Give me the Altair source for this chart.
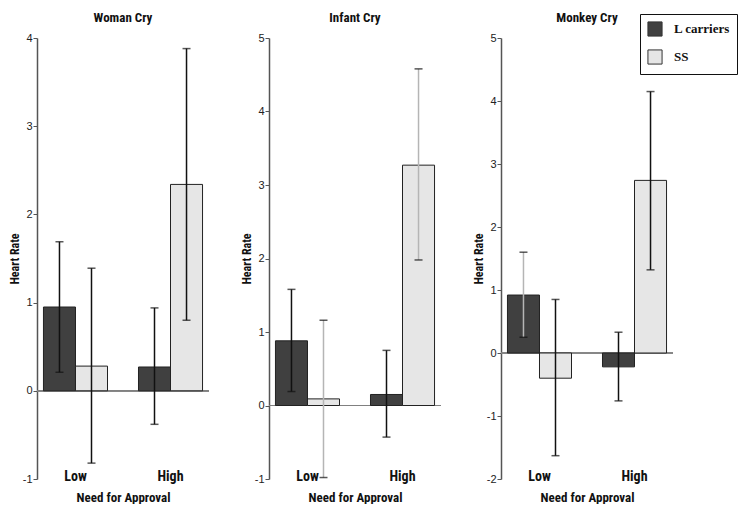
import altair as alt
import pandas as pd

panels = ["Woman Cry", "Infant Cry", "Monkey Cry"]
need_levels = ["Low", "High"]
groups = ["L carriers", "SS"]

# order of each list: L-Low, SS-Low, L-High, SS-High
woman_mean = [0.95, 0.28, 0.27, 2.34]
woman_lo = [0.21, -0.82, -0.38, 0.80]
woman_hi = [1.69, 1.39, 0.94, 3.88]

infant_mean = [0.88, 0.09, 0.15, 3.27]
infant_lo = [0.19, -0.98, -0.43, 1.98]
infant_hi = [1.58, 1.16, 0.75, 4.58]

monkey_mean = [0.92, -0.40, -0.22, 2.74]
monkey_lo = [0.25, -1.63, -0.76, 1.32]
monkey_hi = [1.60, 0.85, 0.33, 4.15]

y_domains = {"Woman Cry": [-1, 4], "Infant Cry": [-1, 5], "Monkey Cry": [-2, 5]}

# error bars drawn in light grey in the original
light_err = {("Infant Cry", "SS", "Low"), ("Infant Cry", "SS", "High"),
             ("Monkey Cry", "L carriers", "Low")}

series = {
    "Woman Cry": (woman_mean, woman_lo, woman_hi),
    "Infant Cry": (infant_mean, infant_lo, infant_hi),
    "Monkey Cry": (monkey_mean, monkey_lo, monkey_hi),
}
cells = [("Low", "L carriers"), ("Low", "SS"), ("High", "L carriers"), ("High", "SS")]

rows = []
for p in panels:
    m, lo, hi = series[p]
    for i, (nd, g) in enumerate(cells):
        rows.append({"panel": p, "need": nd, "group": g, "mean": m[i], "lo": lo[i], "hi": hi[i],
                     "ecol": "#b5b5b5" if (p, g, nd) in light_err else "#111111"})
df = pd.DataFrame(rows)

SANS = "Liberation Sans Narrow, Arial Narrow, Roboto Condensed, Liberation Sans, sans-serif"
SERIF = "Liberation Serif, DejaVu Serif, serif"

LEGEND = alt.Legend(title=None, orient="none", legendX=603, legendY=-24,
                    strokeColor="#111", padding=7, fillColor="white",
                    symbolType="square", symbolSize=200, symbolStrokeColor="#333",
                    symbolStrokeWidth=1, symbolOpacity=1, labelFont=SERIF,
                    labelFontWeight="bold", labelFontSize=13, labelColor="#111",
                    labelOffset=11, rowPadding=8)


def panel(name):
    d = df[df.panel == name]
    dom = y_domains[name]
    base = alt.Chart(d)
    x = alt.X("need:N", sort=need_levels,
              scale=alt.Scale(paddingInner=0.326, paddingOuter=0.068),
              axis=alt.Axis(title="Need for Approval", labelAngle=0, domain=False, ticks=False,
                            labelPadding=-10, labelFont=SANS, labelFontWeight="bold",
                            labelFontSize=14, labelColor="#111", titleFont=SANS,
                            titleFontWeight="bold", titleFontSize=13, titleColor="#111",
                            titlePadding=8))
    xo = alt.XOffset("group:N", sort=groups, scale=alt.Scale(paddingInner=0, paddingOuter=0))
    y_axis = alt.Axis(title="Heart Rate", values=list(range(dom[0], dom[1] + 1)),
                      labelExpr="'' + datum.value",
                      grid=False, domainColor="#555", domainWidth=1.5, tickColor="#555",
                      tickSize=4, labelPadding=1, labelFontSize=11, labelColor="#222",
                      labelFont="Liberation Sans, Arial, sans-serif",
                      titleFont=SANS, titleFontWeight="bold", titleFontSize=12,
                      titleColor="#111", titlePadding=1)
    y = alt.Y("mean:Q", scale=alt.Scale(domain=dom, nice=False), axis=y_axis)

    zero = base.mark_rule(color="#808080", strokeWidth=1.2).encode(y=alt.datum(0))
    bars = base.mark_bar(stroke="#222", strokeWidth=1).encode(
        x=x, xOffset=xo, y=y,
        fill=alt.Fill("group:N", sort=groups,
                      scale=alt.Scale(domain=groups, range=["#404040", "#e6e6e6"]),
                      legend=LEGEND))
    err = base.mark_rule(strokeWidth=1.5).encode(
        x=x, xOffset=xo, y="lo:Q", y2="hi:Q", color=alt.Color("ecol:N", scale=None))
    cap_lo = base.mark_tick(size=8, thickness=1.5, color="#111").encode(x=x, xOffset=xo, y="lo:Q")
    cap_hi = base.mark_tick(size=8, thickness=1.5, color="#111").encode(x=x, xOffset=xo, y="hi:Q")

    return alt.layer(zero, bars, err, cap_lo, cap_hi).properties(
        width=172, height=441,
        title=alt.Title(name, font=SANS, fontWeight="bold", fontSize=13, color="#111", offset=7),
    )


chart = alt.hconcat(
    panel("Woman Cry"),
    panel("Infant Cry"),
    panel("Monkey Cry"),
    spacing=60, bounds="flush",
).resolve_scale(fill="shared", y="independent").resolve_legend(fill="shared").properties(
    padding={"left": 0, "top": 4, "right": 0, "bottom": 0}
).configure(background="white", view=alt.ViewConfig(stroke=None))

chart.save("out.html", embed_options={"renderer": "svg", "actions": False})
